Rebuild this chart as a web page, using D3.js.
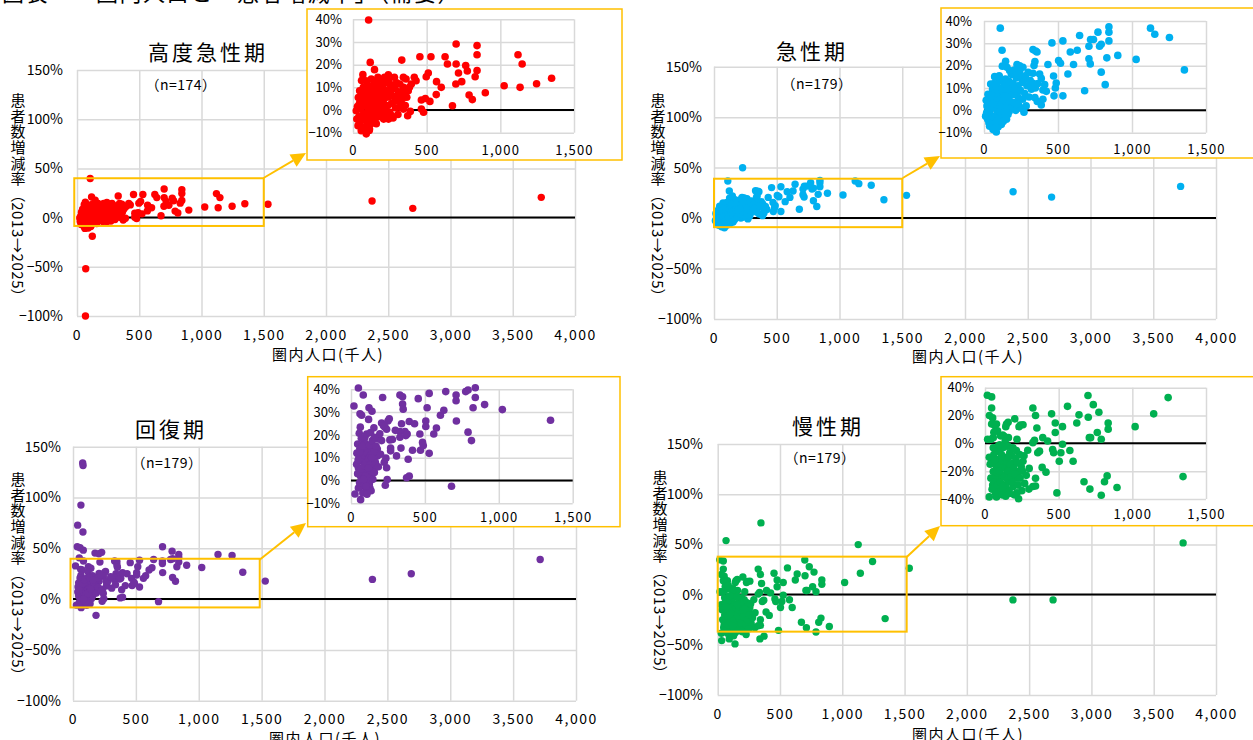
<!DOCTYPE html>
<html><head><meta charset="utf-8">
<script src="https://cdn.jsdelivr.net/npm/d3@7"></script>
<style>
body{margin:0;background:#fff}
svg{display:block}
text{font-family:"Noto Sans CJK JP","Noto Sans",sans-serif}
.vt{writing-mode:vertical-rl;text-orientation:mixed}
</style>
</head><body>
<svg id="chart" width="1253" height="740"></svg>
<script>
const FONT = '"Noto Sans CJK JP","Noto Sans",sans-serif';

// ---- tick values ----
const xTicksMain = [0,500,1000,1500,2000,2500,3000,3500,4000];
const yTicksMain = [-100,-50,0,50,100,150];
const xTicksInset = [0,500,1000,1500];
const yTicksInset = [-10,0,10,20,30,40];
const yTicksInsetChronic = [-40,-20,0,20,40];

// ---- labels ----
const pageTitle = "図表　　圏内人口と「患者増減率」（需要）";
const panelTitles = ["高度急性期","急性期","回復期","慢性期"];
const panelCounts = ["（n=174）","（n=179）","（n=179）","（n=179）"];
const xAxisTitle = "圏内人口(千人)";
const yAxisTitle = "患者数増減率（2013→2025）";
const seriesColors = ["#ff0000","#00b0f0","#7030a0","#00b050"];

// ---- data: [圏内人口(千人), 患者数増減率(%)] ----
const highAcute = [
[106,39.7],[117,21],[146,17.8],[67,15.6],[331,22],[454,23.5],[529,23.5],[625,23.5],[641,20.3],[700,29.1],
[700,20.3],[716,16.3],[738,12.5],[698,11.5],[765,19.6],[776,17.2],[842,28.4],[842,24.4],[842,17.4],[829,14.7],
[788,6.6],[810,4.6],[898,7.6],[1026,10.7],[1120,24.4],[1148,20.3],[1134,10],[1246,11.6],[1348,14],[675,1.9],
[567,12.5],[599,10],[565,6.8],[511,16.3],[497,14.7],[522,3.8],[464,4.4],[491,5.1],[464,0.4],[479,-1],
[416,14.4],[428,12.9],[396,11.5],[383,10],[360,13.7],[342,14.4],[342,10],[365,5.6],[322,7.8],[328,2.6],
[342,0.4],[371,-2.5],[389,-0.6],[254,10.7],[243,12.9],[214,14.4],[191,10],[175,11.5],[230,5.6],[263,-2.5],
[241,-4],[214,-1.8],[180,5.6],[140,8.5],[112,5.6],[85,4.1],[45,8.5],[22,-0.3],[34,-6.9],[56,-9.1],
[112,-8.4],[97,-5.4],[146,-4.7],[162,-1.8],[72,-1.8],[63,3.4],[169,14.4],[124,13.7],[88,12.9],[281,14.4],
[292,4.1],[315,1.2],[202,1.9],[180,-0.3],[153,2.6],[130,1.2],[101,-0.3],
[30,1.5],[40,-3],[50,-5],[55,0.5],[60,6],[65,-7.5],[70,10],[75,-4],[78,2],[80,-8],
[82,7],[90,-2.5],[92,9],[95,-6.5],[98,3],[100,11],[104,-3.5],[108,1],[110,-9],[114,7],
[118,-1],[120,4.5],[122,-6],[126,10.5],[128,-2.5],[132,3.5],[135,-5],[138,6],[142,0],[145,12],
[148,-3],[150,8],[155,4],[158,-6],[160,10.5],[165,1],[170,6.5],[172,-3],[178,9],[185,2.5],
[188,-2],[195,7],[198,13],[205,4],[208,-4],[212,9],[218,0.5],[222,12],[226,-3],[232,8],
[236,2],[240,15.5],[246,6],[250,-1],[258,8.5],[262,3],[268,11],[272,-3.5],[276,6],[284,9.5],
[288,1],[296,12],[300,5.5],[305,-2],[310,8],[318,11.5],[335,5],[348,7.5],[355,2],[375,8.5],
[58,13],[44,3],[36,5.5],[26,-4],[62,-2.5],[86,-9],[64,-11],[90,-10.5],
[70,-52],[68,-100],[123,-19],[1534,13.5],[2370,16.9],[2697,9.4],[3729,20.6]
];

const acute = [
[110,36.8],[122,26.9],[146,22],[124,19.8],[72,15.1],[45,11.8],[106,13.3],[173,17.8],[155,19.3],[223,20.5],
[241,19.9],[263,19.3],[241,17.5],[268,13.6],[230,11],[236,5],[223,0.9],[270,-0.8],[331,27.2],[349,26.6],
[358,26.1],[344,21.9],[338,20.1],[331,16.6],[376,16.3],[387,14.3],[331,12.1],[347,10],[344,5.7],[398,9.1],
[421,8.5],[387,2.4],[398,5],[432,20.5],[459,30.2],[470,15.4],[488,12.2],[482,10],[473,6.5],[504,22.3],
[517,21.1],[533,31.1],[533,6.5],[567,16.3],[583,26.1],[605,20.5],[630,26.9],[646,33.5],[680,8.8],[709,28.7],
[709,23.1],[718,20.8],[720,31.7],[740,31.7],[770,35],[781,28.7],[792,29.6],[792,17.1],[819,11.5],[830,23.5],
[844,37.4],[844,35],[844,31.1],[904,24.6],[1028,22.8],[1125,36.8],[1154,34.1],[1253,32.6],[1354,18.1],[20,2],
[11,-2.6],[38,-7.1],[83,-9.7],[61,-8.6],[117,-6.3],[140,-3.3],[162,-1.8],[27,7.2],[72,8],[95,8.8],
[151,9.5],[173,8],
[15,4.5],[25,-4],[30,0.5],[35,3],[40,-1.5],[48,5.5],[50,-5.5],[55,1],[58,9.5],[62,-3],
[65,4],[68,12],[75,-6],[78,2.5],[80,6],[85,-2],[88,10.5],[90,0],[92,4.5],[98,-4.5],
[100,7],[103,15.5],[108,2],[112,-1],[115,5],[118,10],[120,-3.5],[125,3],[128,8.5],[130,-5],
[132,12.5],[135,1.5],[138,6.5],[142,-1],[145,14],[148,4],[152,-4],[156,11],[160,2],[164,6],
[168,13],[170,-0.5],[176,4],[180,10.5],[185,16],[188,1.5],[192,7],[196,12],[200,3.5],[205,18],
[210,9],[214,0],[218,14.5],[225,6.5],[228,16],[234,2.5],[246,9],[250,15],[255,1],[258,12.5],
[262,5],[275,7.5],[280,15.5],[285,2],[290,11],[298,17],[305,6],[312,13.5],[320,9.5],[360,4],
[365,12],[410,11.5],[52,-7],[70,-8],[95,-7.5],[60,3],[82,-5],[44,7],[33,-5.5],[18,-1],
[228,49.9],[1534,22.5],[2383,26.1],[2690,20.8],[3718,31.4]
];

const recovery = [
[20,32.7],[83,37.5],[61,29.3],[72,28.6],[122,31.9],[142,30.4],[119,26.8],[63,23.4],[56,20.7],[106,20.4],
[45,16],[88,17.2],[155,23.1],[214,36.4],[207,25.2],[230,23.4],[250,26.1],[259,27.1],[241,22.5],[178,18.2],
[207,17.5],[263,17.8],[268,14.2],[268,13],[236,9.8],[241,5.6],[245,0.4],[232,-2.1],[308,10.8],[331,37.5],
[349,36.7],[349,33.5],[353,31.3],[342,24.9],[331,21.5],[331,19],[338,14.2],[365,21.5],[371,19.7],[380,20.4],
[394,25.9],[387,9.3],[376,1.2],[394,1.9],[416,13.3],[430,24.9],[455,35.9],[466,20.4],[470,13.3],[484,16.7],
[489,15.3],[506,26.1],[506,23.7],[515,31.9],[529,38.2],[529,11.9],[560,20.4],[578,23],[605,28.6],[628,30.8],
[641,39],[711,37.5],[711,35],[713,26.1],[680,-2.5],[776,39],[792,39.7],[841,40.7],[841,36.4],[826,31.9],
[904,33.3],[792,21.2],[815,17.5],[1024,31.1],[1350,26.4],[27,-5.9],[65,-8.4],[50,-3.3],[72,-2.5],[106,-4],
[128,-3.3],[106,-0.3],[65,1.9],[50,5.6],[38,7.1],[61,8.6],[83,11.6],[117,13],[146,14.5],[151,9.3],
[128,6.4],[162,5.6],[110,4.1],[88,3.4],[140,2.7],[110,7.9],[178,13.8],[178,10.8],
[40,12],[45,3],[55,10.5],[58,-1],[60,14],[68,5],[70,18.5],[75,0],[78,9],[80,-5.5],
[85,14.5],[90,6.5],[92,-2],[95,11],[98,2],[100,16],[103,8],[108,-6],[112,12],[115,1],
[120,9.5],[124,-1.5],[126,15.5],[130,4.5],[133,11],[136,-4.5],[138,7.5],[144,17.5],[148,0.5],[155,12.5],
[158,3.5],[165,8],[170,15],[185,6],[195,20.5],[200,11.5],[220,24],[225,8],[280,18],[300,22],
[62,12.5],[76,15],[94,19],[132,21],[48,9],[102,-2.5],[86,0.5],[118,5.5],[140,10],[160,19],
[77,134],[80,131.5],[63,92.5],[37,72.8],[79,66],[34,51.5],[56,50.5],[82,48.2],[50,40.6],[175,45.3],
[228,46],[206,44.6],[712,51.5],[788,47.2],[841,44],[1153,44],[1265,43],[1529,17.7],[183,-16],
[2381,19.4],[2690,24.9],[3715,39]
];

const chronic = [
[16,34.6],[45,33.4],[45,25.4],[52,18.3],[45,13.9],[67,12.7],[78,13.9],[18,2.9],[40,2.9],[56,4.1],
[105,5.4],[146,13.9],[157,15.1],[141,12],[159,4.1],[137,1.7],[202,17.6],[217,2.9],[231,12],[240,13.2],
[258,13.4],[325,25.4],[343,20],[352,11],[336,2.2],[325,0.5],[392,4.1],[425,1.7],[452,21.2],[477,14.6],
[477,7.8],[526,12],[526,-0.7],[560,26.6],[623,14.6],[638,20.5],[699,34.4],[701,18.8],[708,4.1],[717,4.1],
[735,27.8],[762,7.8],[773,22.4],[789,2.9],[836,14.6],[836,10.2],[1019,12],[1145,21.2],[1243,32.9],[1344,-23.9],
[896,-31.7],[829,-23.4],[811,-27.6],[789,-37.3],[712,-32.9],[672,-27.6],[598,-12.9],[576,-5.1],[504,-12.9],[515,-6.8],
[488,-35.6],[459,-4.4],[466,-6.8],[414,-20.7],[388,-17.3],[358,-6.8],[370,-5.6],[343,-25.1],[343,-30.7],[298,-32.9],
[325,-31],[228,-39.8],[217,-35.6],[217,-25.1],[231,-20.2],[269,-28.8],[258,-12.9],[235,-8],[210,-10.5],[190,-14.1],
[150,-17.8],[168,-27.6],[134,-34.9],[128,-41],[78,-38.5],[29,-38.5],[52,-30],[90,-33.7],[101,-25.1],[56,-20.2],
[45,-12.9],[29,-10],[78,-5.6],[112,-8],[123,-15.4],[78,-17.8],[90,-11.7],[168,-6.8],[190,-3.2],[213,-5.1],
[246,-16.6],[179,-20.2],[146,-21.5],[112,-22.7],[67,-25.1],[163,-33.7],[190,-31.2],[141,-30],[90,-2],[56,-3.2],
[35,-15],[40,-25],[48,-33],[60,-8],[62,-28],[70,-14],[72,-36],[82,-21],[85,-30],[95,-16],
[98,-6],[105,-28],[108,-18],[115,-37],[118,-12],[125,-3],[130,-24],[135,-10],[140,-38],[148,-13],
[152,-26],[155,-2],[160,-20],[165,-36],[172,-15],[176,-24],[182,-9],[185,-28],[195,-18],[198,-37],
[205,-22],[220,-14],[225,-30],[238,-25],[250,-34],[255,-20],[265,-9],[280,-23],[290,-5],[300,-18],
[60,8],[85,9],[120,6],[30,20],[100,-1],[130,5],[66,-12],[96,-20],[120,-31],[158,-10],
[347,71.4],[67,53.8],[1128,49.8],[32,-45.8],[139,-49.1],[339,-44.1],[372,-41.4],[93,-44.1],[1538,26.3],
[2370,-5.3],[2692,-5.3],[3736,51.5]
];

const seriesData = [highAcute, acute, recovery, chronic];

// ---- layout (pixel geometry of each panel) ----
const layouts = [
 { l:77, r:575, t:70, b:316, yLabR:63, xLabY:335, titleX:208, titleY:53, nX:181, nY:85,
   yTitleX:18, yTitleTop:93, xTitleX:328, xTitleY:355,
   box:{x0:-22,x1:1500,y0:-8.5,y1:40},
   arrow:{x1:263.5,y1:178,x2:306,y2:153},
   inset:{bl:307,bt:9,br:622,bb:160,l:353,r:574,t:19.3,b:132.7,yLabR:342,xLabY:150,yMin:-10,yMax:40,ticks:yTicksInset}},
 { l:714, r:1216, t:66.7, b:319, yLabR:702, xLabY:338, titleX:812, titleY:52, nX:817, nY:84,
   yTitleX:658, yTitleTop:93, xTitleX:968, xTitleY:357,
   box:{x0:0,x1:1500,y0:-9,y1:39},
   arrow:{x1:902.7,y1:178,x2:940,y2:156},
   inset:{bl:941,bt:8,br:1262,bb:158,l:984,r:1206,t:21,b:132.7,yLabR:972,xLabY:149,yMin:-10,yMax:40,ticks:yTicksInset}},
 { l:73, r:576, t:446.7, b:700.7, yLabR:61, xLabY:719, titleX:171, titleY:430, nX:167, nY:463,
   yTitleX:18, yTitleTop:472, xTitleX:325, xTitleY:739,
   box:{x0:-20,x1:1485,y0:-8.2,y1:39.7},
   arrow:{x1:259.3,y1:560,x2:306,y2:523},
   inset:{bl:307.7,bt:376.7,br:620,bb:526.7,l:351,r:572.7,t:389.3,b:503.3,yLabR:340,xLabY:517,yMin:-10,yMax:40,ticks:yTicksInset}},
 { l:717.7, r:1216, t:444, b:695, yLabR:703, xLabY:714, titleX:828, titleY:427, nX:820, nY:458,
   yTitleX:660, yTitleTop:470, xTitleX:968, xTitleY:735,
   box:{x0:0,x1:1517,y0:-36.9,y1:37.8},
   arrow:{x1:906.7,y1:557,x2:940,y2:526},
   inset:{bl:941,bt:376.7,br:1262,bb:525.7,l:985,r:1206,t:387.7,b:499,yLabR:974,xLabY:514,yMin:-40,yMax:40,ticks:yTicksInsetChronic}}
];

const svg = d3.select("#chart");
const fmtPct = d => (d < 0 ? "−" : "") + Math.abs(d) + "%";
const fmtX = d3.format(",");

// page title (cut at top)
svg.append("text").attr("x",2).attr("y",1).attr("font-size",22).attr("letter-spacing",1.5).attr("fill","#000")
   .attr("font-family",FONT).text(pageTitle);

function styleAxis(a, size){
  a.attr("font-family",FONT).attr("font-size",size);
  a.select(".domain").remove();
  a.selectAll(".tick line").attr("stroke","#d9d9d9").attr("stroke-width",1.5);
  a.selectAll(".tick text").attr("fill","#000");
}

function drawMain(i){
  const p = layouts[i], data = seriesData[i], color = seriesColors[i];
  const x = d3.scaleLinear().domain([0,4000]).range([p.l,p.r]);
  const y = d3.scaleLinear().domain([-100,150]).range([p.b,p.t]);
  const g = svg.append("g");
  const ya = g.append("g").attr("transform",`translate(${p.l},0)`)
    .call(d3.axisLeft(y).tickValues(yTicksMain).tickSize(-(p.r-p.l)).tickFormat(fmtPct).tickPadding(p.l-p.yLabR));
  styleAxis(ya,14);
  const xa = g.append("g").attr("transform",`translate(0,${p.b})`)
    .call(d3.axisBottom(x).tickValues(xTicksMain).tickSize(-(p.b-p.t)).tickFormat(fmtX));
  styleAxis(xa,14);
  xa.selectAll(".tick text").attr("y",p.xLabY-p.b).attr("dy","0.35em").attr("letter-spacing",1.5);
  g.append("line").attr("x1",x(0)).attr("x2",x(4000)).attr("y1",y(0)).attr("y2",y(0))
    .attr("stroke","#000").attr("stroke-width",2);
  g.append("g").selectAll("circle").data(data).join("circle")
    .attr("cx",d=>x(d[0])).attr("cy",d=>y(d[1])).attr("r",3.7).attr("fill",color);
  // highlight box
  g.append("rect").attr("x",x(p.box.x0)).attr("y",y(p.box.y1))
    .attr("width",x(p.box.x1)-x(p.box.x0)).attr("height",y(p.box.y0)-y(p.box.y1))
    .attr("fill","none").attr("stroke","#ffc000").attr("stroke-width",2);
  // titles
  g.append("text").attr("x",p.titleX).attr("y",p.titleY).attr("text-anchor","middle").attr("dy","0.35em")
    .attr("font-size",21).attr("letter-spacing",3).attr("font-family",FONT).text(panelTitles[i]);
  g.append("text").attr("x",p.nX).attr("y",p.nY).attr("text-anchor","middle").attr("dy","0.35em")
    .attr("font-size",14).attr("letter-spacing",0.5).attr("font-family",FONT).text(panelCounts[i]);
  // x axis title
  g.append("text").attr("x",p.xTitleX).attr("y",p.xTitleY).attr("text-anchor","middle").attr("dy","0.35em")
    .attr("font-size",15).attr("letter-spacing",1.5).attr("font-family",FONT).text(xAxisTitle);
  // y axis title (vertical writing)
  g.append("text").attr("class","vt").attr("x",p.yTitleX).attr("y",p.yTitleTop)
    .attr("font-size",15).attr("letter-spacing",0.6).attr("font-family",FONT).text(yAxisTitle);
}

function drawInset(i){
  const p = layouts[i], q = p.inset, data = seriesData[i], color = seriesColors[i];
  // arrow
  const a = p.arrow;
  const ang = Math.atan2(a.y2-a.y1, a.x2-a.x1);
  const L = 15, W = 7;
  const bx = a.x2 - L*Math.cos(ang), by = a.y2 - L*Math.sin(ang);
  svg.append("line").attr("x1",a.x1).attr("y1",a.y1).attr("x2",bx).attr("y2",by)
    .attr("stroke","#ffc000").attr("stroke-width",2);
  svg.append("path").attr("fill","#ffc000")
    .attr("d",`M${a.x2},${a.y2}L${bx - W*Math.sin(ang)},${by + W*Math.cos(ang)}L${bx + W*Math.sin(ang)},${by - W*Math.cos(ang)}Z`);

  const g = svg.append("g");
  g.append("rect").attr("x",q.bl).attr("y",q.bt).attr("width",q.br-q.bl).attr("height",q.bb-q.bt)
    .attr("fill","#fff").attr("stroke","#ffc000").attr("stroke-width",1.5);
  const x = d3.scaleLinear().domain([0,1500]).range([q.l,q.r]);
  const y = d3.scaleLinear().domain([q.yMin,q.yMax]).range([q.b,q.t]);
  const ya = g.append("g").attr("transform",`translate(${q.l},0)`)
    .call(d3.axisLeft(y).tickValues(q.ticks).tickSize(-(q.r-q.l)).tickFormat(fmtPct).tickPadding(q.l-q.yLabR));
  styleAxis(ya,13);
  const xa = g.append("g").attr("transform",`translate(0,${q.b})`)
    .call(d3.axisBottom(x).tickValues(xTicksInset).tickSize(-(q.b-q.t)).tickFormat(fmtX));
  styleAxis(xa,13);
  xa.selectAll(".tick text").attr("y",q.xLabY-q.b).attr("dy","0.35em").attr("letter-spacing",1.2);
  g.append("line").attr("x1",x(0)).attr("x2",x(1500)).attr("y1",y(0)).attr("y2",y(0))
    .attr("stroke","#000").attr("stroke-width",2);
  g.append("g").selectAll("circle")
    .data(data.filter(d=>d[0]>=0 && d[0]<=1500 && d[1]>=q.yMin-0.5 && d[1]<=q.yMax+0.8))
    .join("circle")
    .attr("cx",d=>x(d[0])).attr("cy",d=>y(d[1])).attr("r",3.8).attr("fill",color);
}

[0,1,2,3].forEach(drawMain);
[0,1,2,3].forEach(drawInset);
</script>
</body></html>
